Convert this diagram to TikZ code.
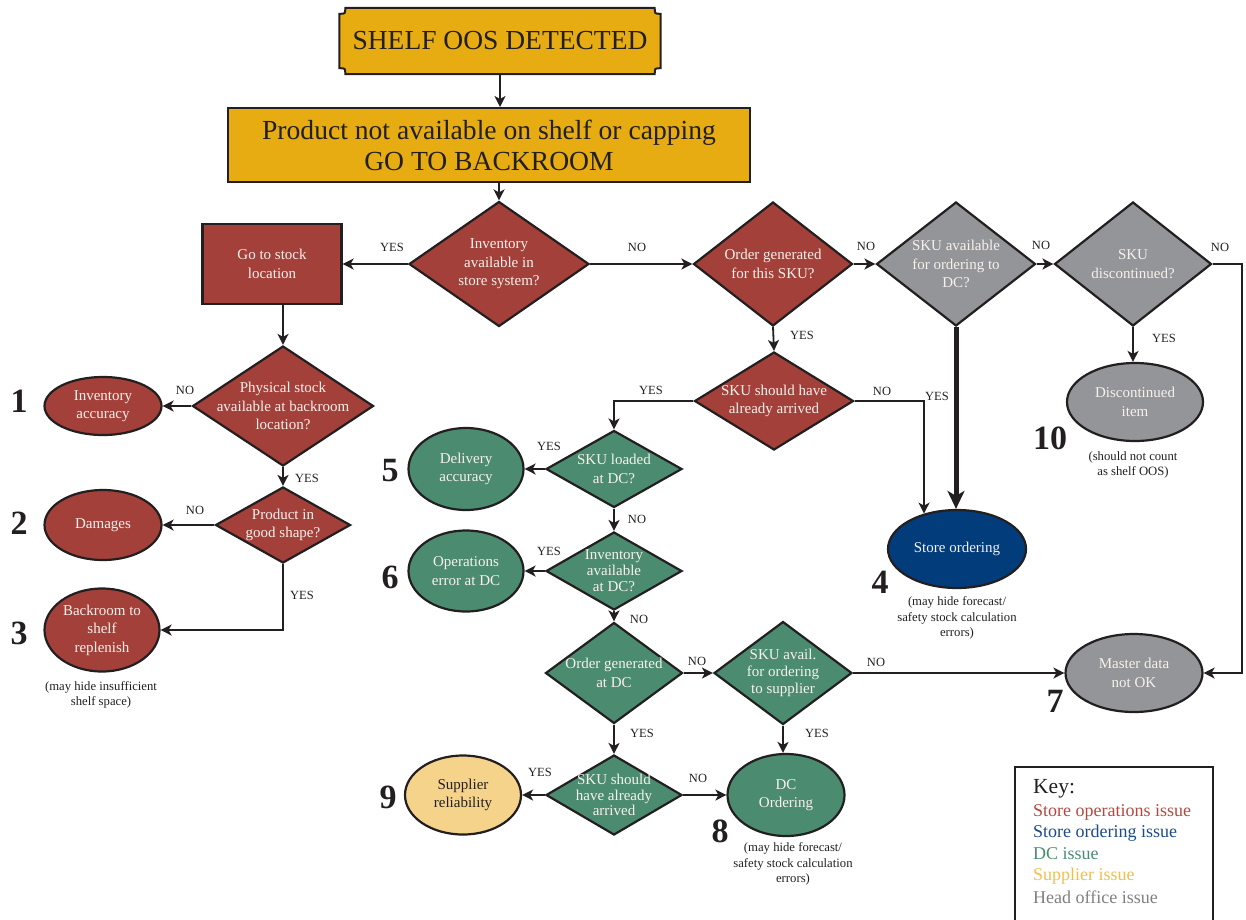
\documentclass[tikz,border=0pt]{standalone}
\usepackage{fontspec}
\setmainfont{Liberation Serif}
\usetikzlibrary{shapes.geometric,arrows.meta,backgrounds}

\definecolor{storered}{HTML}{A3403A}
\definecolor{dcgreen}{HTML}{4B8C70}
\definecolor{officegray}{HTML}{939598}
\definecolor{orderblue}{HTML}{023C7A}
\definecolor{supplieryellow}{HTML}{F6D38A}
\definecolor{alertgold}{HTML}{E6AC12}
\definecolor{ink}{HTML}{231F20}
\definecolor{paper}{HTML}{F7F1EC}
\definecolor{keyred}{HTML}{B5473F}
\definecolor{keyblue}{HTML}{1D4A8A}
\definecolor{keygreen}{HTML}{4B8C70}
\definecolor{keyyellow}{HTML}{F2BE4A}
\definecolor{keygray}{HTML}{7F7F7F}

\begin{document}
\begin{tikzpicture}[x=1pt,y=-1pt,
  shapetext/.style={text=paper, font=\fontsize{15}{18.5}\selectfont, align=center},
  sized/.style 2 args={minimum width=#1pt, minimum height=#2pt},
  decision/.style={shapetext, diamond, draw=ink, line width=2.2pt, inner sep=-15pt},
  outcome/.style={shapetext, ellipse, draw=ink, line width=2.2pt, inner sep=0pt},
  flow/.style={draw=ink, line width=1.8pt, -{Stealth[length=11pt,width=11pt,inset=3pt]}},
  mainflow/.style={draw=ink, line width=5pt, -{Stealth[length=18pt,width=17pt,inset=5pt]}},
  answer/.style={text=ink, font=\fontsize{12.5}{14}\selectfont, inner sep=0pt},
  tag/.style={text=ink, font=\fontsize{34}{34}\selectfont\bfseries, inner sep=0pt},
  note/.style={text=ink, font=\fontsize{12.7}{15.5}\selectfont, align=center, inner sep=0pt},
  keyline/.style={font=\fontsize{18}{20}\selectfont, anchor=west, inner sep=0pt},
]
\useasboundingbox (0,0) rectangle (1246,919);

% ---- header ----
\node[sized={321}{66}, inner sep=0pt, text=ink, font=\fontsize{27.5}{30}\selectfont] (oos) at (500,41) {SHELF OOS DETECTED};
\begin{scope}[on background layer]
  \draw[fill=alertgold, draw=ink, line width=2pt]
    ([xshift=6pt]oos.north west) -- ([xshift=-6pt]oos.north east)
    .. controls ([xshift=-6pt,yshift=-6pt]oos.north east) .. ([yshift=-6pt]oos.north east)
    -- ([yshift=6pt]oos.south east)
    .. controls ([xshift=-6pt,yshift=6pt]oos.south east) .. ([xshift=-6pt]oos.south east)
    -- ([xshift=6pt]oos.south west)
    .. controls ([xshift=6pt,yshift=6pt]oos.south west) .. ([yshift=6pt]oos.south west)
    -- ([yshift=-6pt]oos.north west)
    .. controls ([xshift=6pt,yshift=-6pt]oos.north west) .. cycle;
\end{scope}

\node[sized={522}{74}, inner sep=0pt, draw=ink, line width=2pt, fill=alertgold, text=ink,
      align=center, font=\fontsize{27.6}{31}\selectfont] (gob) at (489,145)
      {Product not available on shelf or capping\\GO TO BACKROOM};

% ---- store level decisions ----
\node[decision, sized={180}{125}, fill=storered] (d1) at (499,264) {Inventory\\available in\\store system?};
\node[shapetext, rectangle, draw=ink, line width=2.2pt, fill=storered, sized={139}{80}] (gs) at (272,264) {Go to stock\\location};
\node[decision, sized={159}{124}, fill=storered] (d2) at (773,264) {Order generated\\for this SKU?};
\node[decision, sized={159}{124}, fill=officegray] (d3) at (956,264) {SKU available\\for ordering to\\DC?};
\node[decision, sized={157}{124}, fill=officegray] (d4) at (1133,264) {SKU\\discontinued?};
\node[decision, sized={159}{98}, fill=storered] (d5) at (774,401) {SKU should have\\already arrived};

\node[decision, sized={181}{110}, fill=storered] (d11) at (283,406) {Physical stock\\available at backroom\\location?};
\node[decision, sized={135}{76}, fill=storered] (d12) at (283,525) {Product in\\good shape?};

% ---- DC level decisions ----
\node[decision, sized={136}{77}, fill=dcgreen] (d6) at (614,469) {SKU loaded\\at DC?};
\node[decision, sized={136}{78}, fill=dcgreen, font=\fontsize{15}{16}\selectfont] (d7) at (614,571) {Inventory\\available\\at DC?};
\node[decision, sized={137}{101}, fill=dcgreen] (d8) at (614,673) {Order generated\\at DC};
\node[decision, sized={138}{103}, fill=dcgreen, font=\fontsize{15}{17}\selectfont] (d9) at (783,673) {SKU avail.\\for ordering\\to supplier};
\node[decision, sized={136}{80}, fill=dcgreen, font=\fontsize{15}{15.5}\selectfont] (d10) at (614,795) {SKU should\\have already\\arrived};

% ---- outcomes ----
\node[outcome, sized={117}{58}, fill=storered] (ia) at (103,406) {Inventory\\accuracy};
\node[outcome, sized={117}{70}, fill=storered] (dm) at (103,525) {Damages};
\node[outcome, sized={115}{83}, fill=storered] (br) at (102,630) {Backroom to\\shelf\\replenish};
\node[outcome, sized={138}{78}, fill=orderblue] (so) at (957,549) {Store ordering};
\node[outcome, sized={115}{82}, fill=dcgreen] (da) at (466,469) {Delivery\\accuracy};
\node[outcome, sized={115}{81}, fill=dcgreen] (oe) at (466,571) {Operations\\error at DC};
\node[outcome, sized={137}{78}, fill=officegray] (md) at (1134,673) {Master data\\not OK};
\node[outcome, sized={117}{82}, fill=dcgreen] (dco) at (786,795) {DC\\Ordering};
\node[outcome, sized={116}{79}, fill=supplieryellow, text=ink] (sr) at (463,795) {Supplier\\reliability};
\node[outcome, sized={136}{78}, fill=officegray] (di) at (1135,402) {Discontinued\\item};

% ---- connectors ----
\draw[flow] (oos.south) -- (oos.south |- gob.north);
\draw[flow] (gob.south -| d1.north) -- (d1.north);
\draw[flow] (d1.west) -- (gs.east);
\draw[flow] (d1.east) -- (d2.west);
\draw[flow] (d2.east) -- (d3.west);
\draw[flow] (d3.east) -- (d4.west);
\draw[flow] (d4.east) -- ++(29,0) |- (md.east);
\draw[flow] (d4.south) -- (d4.south |- di.north);
\draw[mainflow] (d3.south) -- (d3.south |- so.north);
\draw[flow] (d2.south) -- (d5.north);
\draw[flow] (d5.east) -| (so.133);
\draw[flow] (d5.west) -| (d6.north);
\draw[flow] (d6.west) -- (da.east);
\draw[flow] (d6.south) -- (d7.north);
\draw[flow] (d7.west) -- (oe.east);
\draw[flow] (d7.south) -- (d8.north);
\draw[flow] (d8.east) -- (d9.west);
\draw[flow] (d9.east) -- (md.west);
\draw[flow] (d9.south) -- (d9.south |- dco.north);
\draw[flow] (d8.south) -- (d10.north);
\draw[flow] (d10.east) -- (dco.west);
\draw[flow] (d10.west) -- (sr.east);
\draw[flow] (gs.south -| d11.north) -- (d11.north);
\draw[flow] (d11.west) -- (ia.east);
\draw[flow] (d11.south) -- (d12.north);
\draw[flow] (d12.west) -- (dm.east);
\draw[flow] (d12.south) |- (br.east);

% ---- answers on the connectors ----
\node[answer] (a1) at (392,247) {YES};
\node[answer] (a2) at (637,247) {NO};
\node[answer] (a3) at (866,246) {NO};
\node[answer] (a4) at (1041,245) {NO};
\node[answer] (a5) at (1220,247) {NO};
\node[answer] (a6) at (1164,338) {YES};
\node[answer] (a7) at (802,335) {YES};
\node[answer] (a8) at (882,391) {NO};
\node[answer] (a9) at (937,396) {YES};
\node[answer] (a10) at (651,390) {YES};
\node[answer] (a11) at (549,446) {YES};
\node[answer] (a12) at (637,519) {NO};
\node[answer] (a13) at (549,551) {YES};
\node[answer] (a14) at (639,619) {NO};
\node[answer] (a15) at (697,661) {NO};
\node[answer] (a16) at (876,662) {NO};
\node[answer] (a17) at (642,733) {YES};
\node[answer] (a18) at (817,733) {YES};
\node[answer] (a19) at (540,772) {YES};
\node[answer] (a20) at (698,778) {NO};
\node[answer] (a21) at (185,390) {NO};
\node[answer] (a22) at (307,478) {YES};
\node[answer] (a23) at (195,510) {NO};
\node[answer] (a24) at (302,595) {YES};

% ---- issue numbers ----
\node[tag] (t1) at (19,401) {1};
\node[tag] (t2) at (19,523) {2};
\node[tag] (t3) at (19,633) {3};
\node[tag] (t4) at (880,582) {4};
\node[tag] (t5) at (390,471) {5};
\node[tag] (t6) at (390,577) {6};
\node[tag] (t7) at (1055,701) {7};
\node[tag] (t8) at (720,831) {8};
\node[tag] (t9) at (388,797) {9};
\node[tag] (t10) at (1050,438) {10};

% ---- remarks ----
\node[note] (n3) at (101,695) {(may hide insufficient\\shelf space)};
\node[note] (n4) at (957,618) {(may hide forecast/\\safety stock calculation\\errors)};
\node[note] (n8) at (793,864) {(may hide forecast/\\safety stock calculation\\errors)};
\node[note] (n10) at (1133,465) {(should not count\\as shelf OOS)};

% ---- key ----
\draw[draw=ink, line width=2pt] (1015,925) |- (1213,767) -- (1213,925);
\node[keyline, text=ink, font=\fontsize{21.5}{24}\selectfont] (k0) at (1033,789) {Key:};
\node[keyline, text=keyred] (k1) at (1033,812) {Store operations issue};
\node[keyline, text=keyblue] (k2) at (1033,833) {Store ordering issue};
\node[keyline, text=keygreen] (k3) at (1033,854) {DC issue};
\node[keyline, text=keyyellow] (k4) at (1033,876) {Supplier issue};
\node[keyline, text=keygray] (k5) at (1033,897) {Head office issue};
\end{tikzpicture}
\end{document}
